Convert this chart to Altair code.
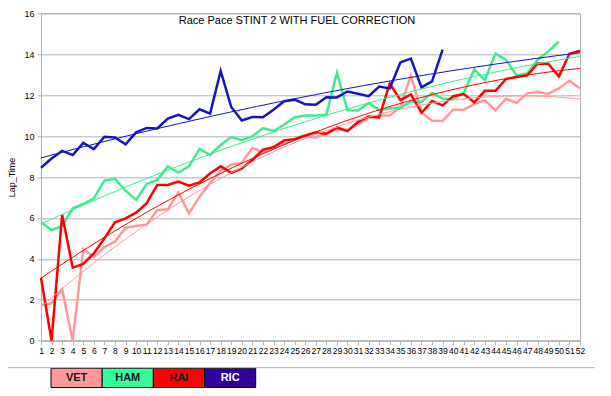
import altair as alt
import pandas as pd

laps = list(range(1, 53))
drivers = ["VET", "HAM", "RAI", "RIC"]

vet = [1.75, 1.83, 2.5, 0.0, 4.47, 4.1, 4.58, 4.84, 5.52, 5.6,
       5.68, 6.38, 6.42, 7.25, 6.22, 7.04, 7.7, 8.3, 8.6, 8.7,
       9.42, 9.2, 9.48, 9.65, 9.84, 10.0, 9.93, 10.13, 10.33, 10.29,
       10.59, 10.88, 11.0, 11.01, 11.42, 12.96, 11.15, 10.75, 10.74, 11.29,
       11.29, 11.56, 11.75, 11.26, 11.82, 11.62, 12.09, 12.17, 12.06, 12.33,
       12.7, 12.33]
ham = [5.79, 5.41, 5.61, 6.47, 6.68, 6.96, 7.82, 7.91, 7.33, 6.88,
       7.66, 7.86, 8.52, 8.22, 8.52, 9.37, 9.08, 9.56, 9.95, 9.8,
       9.99, 10.39, 10.25, 10.55, 10.92, 11.0, 11.01, 11.04, 13.09, 11.26,
       11.25, 11.62, 11.27, 11.35, 11.37, 11.69, 11.68, 12.1, 11.83, 11.8,
       12.12, 13.26, 12.74, 14.03, 13.72, 12.96, 13.06, 13.73, 14.14, 14.61,
       None, None]
rai = [3.08, 0.0, 6.15, 3.57, 3.75, 4.27, 5.0, 5.79, 5.98, 6.26,
       6.72, 7.61, 7.61, 7.78, 7.58, 7.74, 8.17, 8.52, 8.2, 8.42,
       8.83, 9.34, 9.45, 9.79, 9.85, 10.03, 10.18, 10.11, 10.42, 10.24,
       10.7, 10.96, 10.91, 12.57, 11.76, 12.04, 11.14, 11.71, 11.5, 11.95,
       12.05, 11.65, 12.21, 12.21, 12.79, 12.89, 12.97, 13.55, 13.54, 12.92,
       14.02, 14.17]
ric = [8.45, 8.9, 9.28, 9.07, 9.67, 9.36, 9.97, 9.93, 9.6, 10.18,
       10.4, 10.37, 10.86, 11.04, 10.83, 11.31, 11.1, 13.18, 11.42, 10.76,
       10.93, 10.92, 11.29, 11.7, 11.78, 11.55, 11.53, 11.9, 11.89, 12.18,
       12.07, 11.95, 12.42, 12.33, 13.6, 13.79, 12.38, 12.67, 14.22] + [None] * 13

y_ticks = [0, 2, 4, 6, 8, 10, 12, 14, 16]
chart_title = "Race Pace STINT 2 WITH FUEL CORRECTION"
line_colors = ["#ff9999", "#3deb8d", "#ff0000", "#1414c4"]
legend_fills = ["#ff9999", "#33ff99", "#ff0000", "#330099"]
legend_text_colors = ["#1a1a1a", "#1a1a1a", "#1a1a1a", "#ffffff"]

rows = []
for name, series in zip(drivers, [vet, ham, rai, ric]):
    for lap, v in zip(laps, series):
        if v is not None:
            rows.append({"driver": name, "lap": lap, "lap_time": v})
df = pd.DataFrame(rows)

FONT = "Liberation Sans"
GRID = "#b3b3b3"
PLOT_H = 327.4

x_scale = alt.Scale(domain=[1, 52], nice=False, zero=False)
y_scale = alt.Scale(domain=[0, 16], nice=False)
color_scale = alt.Scale(domain=drivers, range=line_colors)

x_axis = alt.Axis(values=laps, title=None, grid=False, labelOverlap=False, labelFlush=False,
                  labelBound=False, tickCount=52,
                  format="d", labelFontSize=8.5, labelFont=FONT, labelColor="#000000",
                  tickSize=4, labelPadding=2, domainColor=GRID, tickColor=GRID)
y_axis = alt.Axis(values=y_ticks, title="Lap_Time", grid=True, gridColor=GRID,
                  labelFontSize=9, labelFont=FONT, labelColor="#000000",
                  tickSize=4, labelPadding=3, domainColor=GRID, tickColor=GRID,
                  titleFont=FONT, titleFontSize=9, titleFontWeight="normal",
                  titleColor="#000000", titleX=-30, titleY=PLOT_H / 2,
                  titleAlign="center", titleBaseline="middle", titleAngle=270)

base = alt.Chart(df)
lines = base.mark_line(strokeWidth=2.5).encode(
    x=alt.X("lap:Q", scale=x_scale, axis=x_axis),
    y=alt.Y("lap_time:Q", scale=y_scale, axis=y_axis),
    color=alt.Color("driver:N", scale=color_scale, legend=None),
)
trend = base.transform_regression(
    "lap", "lap_time", groupby=["driver"], method="poly", order=2, extent=[1, 52]
).mark_line(strokeWidth=1).encode(
    x=alt.X("lap:Q", scale=x_scale, axis=x_axis),
    y=alt.Y("lap_time:Q", scale=y_scale, axis=y_axis),
    color=alt.Color("driver:N", scale=color_scale, legend=None),
)
title = alt.Chart(pd.DataFrame({"t": [chart_title]})).mark_text(
    font=FONT, fontSize=11, align="center", baseline="middle", color="#000000"
).encode(text="t:N", x=alt.value(256), y=alt.value(7.4))

plot = alt.layer(lines, trend, title)

leg_df = pd.DataFrame({"name": drivers, "fill": legend_fills, "tc": legend_text_colors})
leg_scale = alt.Scale(domain=drivers, range=[10, 214.7], paddingInner=0, paddingOuter=0)
leg_rect = alt.Chart(leg_df).mark_rect(stroke="#000000", strokeWidth=1).encode(
    x=alt.X("name:N", scale=leg_scale, axis=None),
    y=alt.value(355), y2=alt.value(374.2),
    fill=alt.Fill("fill:N", scale=None),
)
leg_text = alt.Chart(leg_df).mark_text(font=FONT, fontSize=11, fontWeight="bold",
                                       baseline="middle").encode(
    x=alt.X("name:N", scale=leg_scale, axis=None),
    y=alt.value(364.8),
    text="name:N",
    color=alt.Color("tc:N", scale=None),
)
legend_layer = alt.layer(leg_rect, leg_text)

sep = alt.Chart(pd.DataFrame({"k": [0]})).mark_rule(color=GRID, strokeWidth=1).encode(
    x=alt.value(-33), x2=alt.value(560), y=alt.value(354.4)
)

chart = alt.layer(plot, legend_layer, sep).resolve_scale(x="independent").properties(
    width=539, height=PLOT_H,
    padding={"left": 33, "top": 5.3, "right": 15, "bottom": 47.3},
    autosize="none",
).configure_view(stroke=GRID)

chart.save("out.html", embed_options={"renderer": "svg", "actions": False})
